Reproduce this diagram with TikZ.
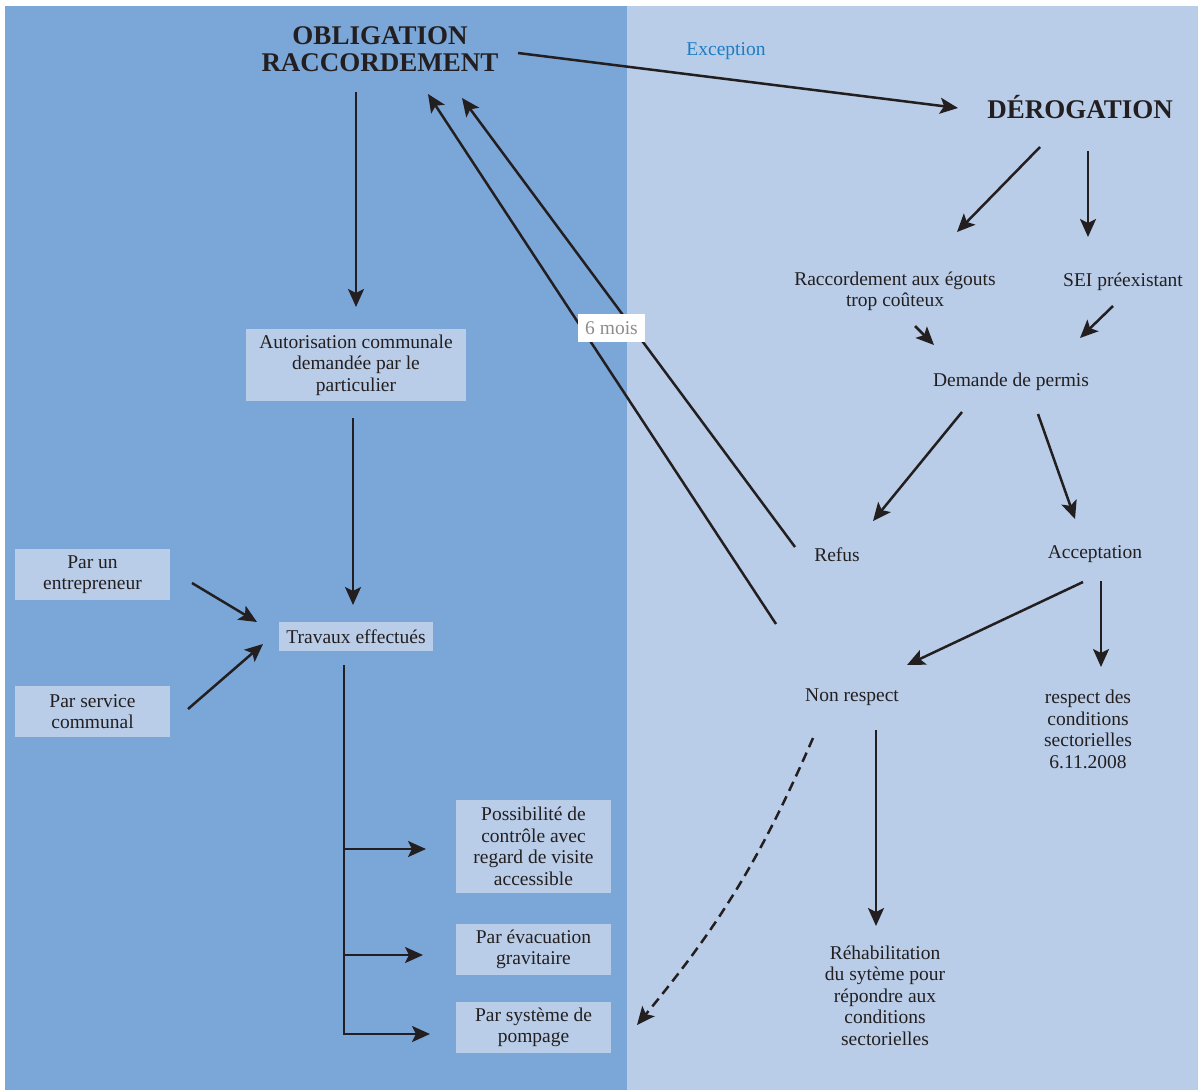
\documentclass[tikz,border=0pt]{standalone}
\usepackage{fontspec}
\setmainfont{Liberation Serif}
\usetikzlibrary{arrows.meta}
\definecolor{fonce}{RGB}{123,166,216}
\definecolor{clair}{RGB}{185,205,232}
\definecolor{encre}{RGB}{35,31,32}
\definecolor{bleu}{RGB}{28,125,195}
\definecolor{gris}{RGB}{140,140,140}
\begin{document}
\begin{tikzpicture}[x=1pt, y=1pt,
      cadre/.style ={fill=clair, text=encre, align=center, inner sep=0pt, font=\fontsize{19.5}{21.5}\selectfont},
      texte/.style ={text=encre, align=center, inner sep=0pt, yshift=-1.5pt, font=\fontsize{19.5}{21.5}\selectfont},
      titre/.style ={text=encre, align=center, inner sep=0pt, font=\bfseries\fontsize{27}{27}\selectfont},
      fleche/.style ={encre, line width=2.5pt, -{Stealth[length=18pt, width=16pt, inset=4pt]}}]

   \useasboundingbox (0,0) rectangle (1198,-1090);
   \fill[white] (0,0) rectangle (1198,-1090);
   \fill[fonce] (5,-6) rectangle (627,-1090);
   \fill[clair] (627,-6) rectangle (1198,-1090);

   \node[titre] (OB)  at (380,-49)  {OBLIGATION\\RACCORDEMENT};
   \node[titre] (DER) at (1080,-107.5) {DÉROGATION};
   \node[texte, text=bleu, font=\fontsize{19.5}{21.5}\selectfont] (EXC) at (726,-50) {Exception};

   \node[cadre, minimum width=220pt, minimum height=72pt] (AUT)  at (356,-365)    {Autorisation communale\\demandée par le\\particulier};
   \node[cadre, minimum width=154pt, minimum height=29pt] (TRA)  at (356,-636.5)  {Travaux effectués};
   \node[cadre, minimum width=155pt, minimum height=51pt] (ENT)  at (92.5,-574.5) {Par un\\entrepreneur};
   \node[cadre, minimum width=155pt, minimum height=51pt] (SERV) at (92.5,-711.5) {Par service\\communal};
   \node[cadre, minimum width=155pt, minimum height=93pt] (POSS) at (533.5,-846.5) {Possibilité de\\contrôle avec\\regard de visite\\accessible};
   \node[cadre, minimum width=155pt, minimum height=51pt] (GRAV) at (533.5,-949.5) {Par évacuation\\gravitaire};
   \node[cadre, minimum width=155pt, minimum height=51pt] (POMP) at (533.5,-1027.5) {Par système de\\pompage};

   \node[texte] (COUT)  at (895,-290)  {Raccordement aux égouts\\trop coûteux};
   \node[texte] (SEI)   at (1123,-280) {SEI préexistant};
   \node[texte] (PERM)  at (1011,-380) {Demande de permis};
   \node[texte] (REF)   at (837,-553)  {Refus};
   \node[texte] (ACC)   at (1095,-553) {Acceptation};
   \node[texte] (NONR)  at (852,-696)  {Non respect};
   \node[texte] (RESP)  at (1088,-728) {respect des\\conditions\\sectorielles\\6.11.2008};
   \node[texte] (REHAB) at (885,-994)  {Réhabilitation\\du sytème pour\\répondre aux\\conditions\\sectorielles};



   \draw[fleche] ([shift={(138,-4)}]OB.center) to ([shift={(-122,-0.5)}]DER.center);
   \draw[fleche] ([shift={(-24,-43)}]OB.center) to ([shift={(0,58)}]AUT.center);
   \draw[fleche] ([shift={(-3,-53)}]AUT.center) to ([shift={(-3,31.5)}]TRA.center);
   \draw[fleche] ([shift={(99.5,-8.5)}]ENT.center) to ([shift={(-99,14.5)}]TRA.center);
   \draw[fleche] ([shift={(95.5,2.5)}]SERV.center) to ([shift={(-93,-7.5)}]TRA.center);

   \coordinate (TR) at ([shift={(-12,-28.5)}]TRA.center);
   \coordinate (P1) at ([shift={(-107.5,-2.5)}]POSS.center);
   \coordinate (P2) at ([shift={(-110.5,-5.5)}]GRAV.center);
   \coordinate (P3) at ([shift={(-103.5,-6.5)}]POMP.center);
   \draw[fleche] (TR) |- (P3);
   \draw[fleche] (TR |- P1) to (P1);
   \draw[fleche] (TR |- P2) to (P2);

   \draw[fleche] ([shift={(-40,-39.5)}]DER.center) to ([shift={(62,59.5)}]COUT.center);
   \draw[fleche] ([shift={(8,-43.5)}]DER.center) to ([shift={(-35,44.5)}]SEI.center);
   \draw[fleche] ([shift={(20,-34.5)}]COUT.center) to ([shift={(-77,36.5)}]PERM.center);
   \draw[fleche] ([shift={(-10,-24.5)}]SEI.center) to ([shift={(69,43.5)}]PERM.center);
   \draw[fleche] ([shift={(-49,-30.5)}]PERM.center) to ([shift={(36,33.5)}]REF.center);
   \draw[fleche] ([shift={(27,-32.5)}]PERM.center) to ([shift={(-20,35.5)}]ACC.center);
   \draw[fleche] ([shift={(-12,-27.5)}]ACC.center) to ([shift={(55,32.5)}]NONR.center);
   \draw[fleche] ([shift={(6,-26.5)}]ACC.center) to ([shift={(13,62.5)}]RESP.center);
   \draw[fleche] ([shift={(24,-32.5)}]NONR.center) to ([shift={(-9,69.5)}]REHAB.center);
   \draw[fleche, dash pattern=on 10pt off 6pt] ([shift={(-39,-40.5)}]NONR.center) to [bend left=8] ([shift={(103.5,2.5)}]POMP.center);

   \draw[fleche] ([shift={(-42,7.5)}]REF.center) to ([shift={(82,-49)}]OB.center);
   \draw[fleche] ([shift={(-76,73.5)}]NONR.center) to ([shift={(48,-45)}]OB.center);
   \node[fill=white, text=gris, inner sep=0pt, minimum width=67pt, minimum height=28pt, font=\fontsize{19.5}{21.5}\selectfont] (MOIS) at (611.5,-328) {6 mois};

 \end{tikzpicture}
\end{document}
